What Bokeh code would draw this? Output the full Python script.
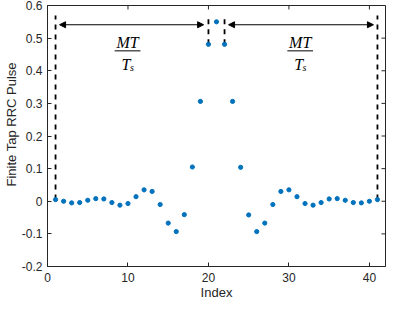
from bokeh.plotting import figure
from bokeh.models import Range1d, FixedTicker, Label, Arrow, NormalHead, Title
from bokeh.core.properties import value
from bokeh.embed import file_html
from bokeh.resources import INLINE

# ---- data ----
index = list(range(1, 42))
pulse = [0.005, 0.0, -0.005, -0.004, 0.003, 0.008, 0.007, -0.004, -0.012, -0.007,
         0.014, 0.035, 0.030, -0.010, -0.067, -0.093, -0.041, 0.105, 0.306, 0.481,
         0.550, 0.481, 0.306, 0.104, -0.042, -0.093, -0.067, -0.010, 0.030, 0.035,
         0.014, -0.007, -0.012, -0.004, 0.007, 0.008, 0.003, -0.004, -0.005, 0.0,
         0.005]

x_ticks = [0, 10, 20, 30, 40]
x_tick_labels = ["0", "10", "20", "30", "40"]
y_ticks = [-0.2, -0.1, 0.0, 0.1, 0.2, 0.3, 0.4, 0.5, 0.6]
y_tick_labels = ["-0.2", "-0.1", "0", "0.1", "0.2", "0.3", "0.4", "0.5", "0.6"]

marker_idx = [1, 20, 22, 41]          # dashed vertical markers
marker_top = 0.569
arrow_y = 0.541
arrow_spans = [(1.5, 19.4), (22.5, 40.5)]
frac_centers = [9.95, 31.4]

x_label = "Index"
y_label = "Finite Tap RRC Pulse"

AX = "#262626"
BLUE = "#0072BD"
SANS = "Liberation Sans"
SERIF = "Liberation Serif"

W, H = 386, 302
BL, BR, BT, BB = 47, 1, 5, 34
XR = (0, 42)
YR = (-0.2, 0.6)
px_x = (W - BL - BR) / (XR[1] - XR[0])
px_y = (H - BT - BB) / (YR[1] - YR[0])
TICK = 4

p = figure(width=W, height=H, output_backend="svg", toolbar_location=None,
           x_range=Range1d(*XR), y_range=Range1d(*YR),
           min_border_left=BL, min_border_right=BR, min_border_top=BT, min_border_bottom=BB)
p.grid.visible = False
p.outline_line_color = AX
p.outline_line_width = 1
p.background_fill_color = "white"


def style_axis(ax, ticks, labels):
    ax.ticker = FixedTicker(ticks=ticks)
    ax.major_label_overrides = {t: l for t, l in zip(ticks, labels)}
    ax.major_tick_in = TICK
    ax.major_tick_out = 0
    ax.minor_tick_in = 0
    ax.minor_tick_out = 0
    ax.axis_line_color = AX
    ax.major_tick_line_color = AX
    ax.major_label_text_color = AX
    ax.major_label_text_font = SANS
    ax.major_label_text_font_size = "12px"


xa = p.xaxis[0]
style_axis(xa, x_ticks, x_tick_labels)
xa.major_label_standoff = 6
xa.axis_label = x_label
xa.axis_label_standoff = 0
xa.axis_label_text_font = SANS
xa.axis_label_text_font_style = "normal"
xa.axis_label_text_font_size = "13px"
xa.axis_label_text_color = AX

ya = p.yaxis[0]
style_axis(ya, y_ticks, y_tick_labels)
ya.major_label_standoff = 5

# y label as a left-side title, positioned along the axis
p.add_layout(Title(text=y_label, align="left", offset=80, standoff=0,
                   text_font=SANS, text_font_size="13px", text_font_style="normal",
                   text_color=AX), "left")

# box ticks on top and right (inward), from the tick lists
p.segment(x0=x_ticks, x1=x_ticks, y0=[YR[1]] * len(x_ticks),
          y1=[YR[1] - TICK / px_y] * len(x_ticks), line_color=AX, line_width=1)
p.segment(x0=[XR[1]] * len(y_ticks), x1=[XR[1] - TICK / px_x] * len(y_ticks),
          y0=y_ticks, y1=y_ticks, line_color=AX, line_width=1)

# dashed markers
p.segment(x0=marker_idx, x1=marker_idx,
          y0=[pulse[i - 1] for i in marker_idx], y1=[marker_top] * len(marker_idx),
          line_color="black", line_width=1.8, line_dash=value("5 2.5"))

# arrows
for xs, xe in arrow_spans:
    p.add_layout(Arrow(x_start=xs, y_start=arrow_y, x_end=xe, y_end=arrow_y,
                       line_color="black", line_width=1.2,
                       start=NormalHead(size=6, fill_color="black", line_color="black", line_width=1),
                       end=NormalHead(size=6, fill_color="black", line_color="black", line_width=1)))

# fractions MT / T_s
for c in frac_centers:
    p.add_layout(Label(x=c, y=0.487, text="MT", text_align="center", text_baseline="alphabetic",
                       text_font=SERIF, text_font_style="italic", text_font_size="16px",
                       text_color="black"))
    p.segment(x0=[c - 1.6], x1=[c + 1.6], y0=[0.461], y1=[0.461], line_color="black", line_width=1)
    p.add_layout(Label(x=c - 0.2, y=0.420, text="T", text_align="center", text_baseline="alphabetic",
                       text_font=SERIF, text_font_style="italic", text_font_size="16px",
                       text_color="black"))
    p.add_layout(Label(x=c + 0.3, y=0.410, text="s", text_align="left", text_baseline="alphabetic",
                       text_font=SERIF, text_font_style="italic", text_font_size="10px",
                       text_color="black"))

# data points
p.scatter(index, pulse, size=4.2, marker="circle", fill_color=BLUE, line_color=BLUE)

open("out.html", "w").write(file_html(p, INLINE))
